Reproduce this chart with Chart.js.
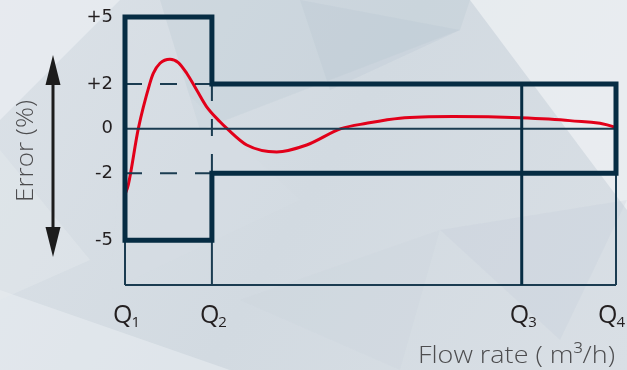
<!DOCTYPE html>
<html>
<head>
<meta charset="utf-8">
<script src="https://cdn.jsdelivr.net/npm/chart.js@4.4.1/dist/chart.umd.min.js"></script>
<style>
  html, body { margin: 0; padding: 0; }
  body { width: 627px; height: 370px; overflow: hidden; background: #d6dde4; }
  #wrap { position: relative; width: 627px; height: 370px; }
</style>
</head>
<body>
<div id="wrap"><canvas id="c" width="627" height="370"></canvas></div>
<script>
// Flow points on a 0..100 relative axis (Q1 at 0, Q4 at 100).
const qNames = ["1", "2", "3", "4"];
const qPos = [0, 17.7, 80.8, 100];
const yTicks = [5, 2, 0, -2, -5];
const yMin = -7, yMax = 5;

// Maximum permissible error envelope (%): ±5 below Q2, ±2 from Q2 to Q4.
const lowerZone = 5;
const upperZone = 2;

const curveX = [0, 0.67, 2.71, 5.09, 5.76, 7.13, 9.16, 10.86, 12.57, 14.6, 16.6, 19.35, 20.8, 24.8, 30.9, 37.0, 44.0, 49.2, 56.0, 66.8, 80.4, 90.6, 99.4, 100];
const curveY = [-2.95, -2.52, 0, 2.05, 2.48, 2.93, 3.11, 2.96, 2.48, 1.73, 0.99, 0.31, 0, -0.73, -1.04, -0.73, 0, 0.24, 0.47, 0.54, 0.49, 0.36, 0.09, 0];

const NAVY = "#062c43";
const THIN = "#1b3c51";
const RED = "#e2001a";

const [Q1, Q2, Q3, Q4] = qPos;

const envelope = [
  [Q1, 0], [Q1, lowerZone], [Q2, lowerZone], [Q2, upperZone], [Q4, upperZone],
  [Q4, -upperZone], [Q2, -upperZone], [Q2, -lowerZone], [Q1, -lowerZone], [Q1, 0],
].map(([x, y]) => ({ x, y }));

// thin guide lines, null breaks between segments
const guides = [
  { x: Q1, y: 0 }, { x: Q4, y: 0 }, { x: Q4, y: null },
  { x: Q1, y: yMin }, { x: Q4, y: yMin }, { x: Q4, y: null },
  { x: Q1, y: -lowerZone }, { x: Q1, y: yMin }, { x: Q1, y: null },
  { x: Q2, y: -lowerZone }, { x: Q2, y: yMin }, { x: Q2, y: null },
  { x: Q4, y: -upperZone }, { x: Q4, y: yMin },
];

const q3Line = [{ x: Q3, y: upperZone }, { x: Q3, y: yMin }];

const dashed = [
  { x: Q1, y: upperZone }, { x: Q2, y: upperZone }, { x: Q2, y: null },
  { x: Q1, y: -upperZone }, { x: Q2, y: -upperZone }, { x: Q2, y: null },
  { x: Q2, y: upperZone }, { x: Q2, y: -upperZone },
];

const curve = curveX.map((x, i) => ({ x, y: curveY[i] }));

// soft low-poly backdrop
const backdrop = {
  id: "backdrop",
  beforeDraw(chart) {
    const c = chart.ctx;
    const W = chart.width, H = chart.height;
    c.save();
    const g = c.createLinearGradient(0, 0, W, H);
    g.addColorStop(0, "#dbe1e7");
    g.addColorStop(0.5, "#d2dae1");
    g.addColorStop(1, "#d9dfe5");
    c.fillStyle = g;
    c.fillRect(0, 0, W, H);
    const polys = [
      ["rgba(240,243,246,0.55)", [[0, 0], [120, 0], [0, 120]]],
      ["rgba(190,202,213,0.35)", [[160, 0], [470, 0], [460, 30], [200, 130]]],
      ["rgba(175,190,203,0.2)", [[300, 0], [460, 30], [330, 90]]],
      ["rgba(245,247,249,0.6)", [[470, 0], [627, 0], [627, 210]]],
      ["rgba(236,240,243,0.5)", [[0, 290], [230, 370], [0, 370]]],
      ["rgba(230,234,238,0.4)", [[0, 150], [90, 260], [0, 300]]],
      ["rgba(190,202,213,0.22)", [[440, 230], [627, 200], [560, 340]]],
      ["rgba(200,210,219,0.22)", [[240, 300], [440, 230], [400, 370]]],
      ["rgba(215,222,229,0.3)", [[130, 40], [300, 200], [110, 290]]],
    ];
    for (const [fill, pts] of polys) {
      c.fillStyle = fill;
      c.beginPath();
      pts.forEach(([x, y], i) => (i ? c.lineTo(x, y) : c.moveTo(x, y)));
      c.closePath();
      c.fill();
    }
    c.restore();
  },
};

// draw text stretched horizontally to a target width
function fitText(c, text, x, y, width) {
  const w = c.measureText(text).width;
  c.save();
  c.translate(x, y);
  c.scale(width / w, 1);
  c.fillText(text, 0, 0);
  c.restore();
}

// Q labels, axis titles and the double arrow
const annotations = {
  id: "annotations",
  afterDraw(chart) {
    const c = chart.ctx;
    const xs = chart.scales.x;
    c.save();
    c.fillStyle = "#231f20";
    c.textBaseline = "alphabetic";
    qPos.forEach((q, i) => {
      const px = xs.getPixelForValue(q);
      c.font = "400 25px 'Open Sans'";
      const wq = c.measureText("Q").width;
      c.font = "400 15px 'Open Sans'";
      const ws = c.measureText(qNames[i]).width;
      let left = px + 2 - (wq + ws) / 2;
      left = Math.min(left, chart.width - (wq + ws) - 1);
      c.font = "400 25px 'Open Sans'";
      c.fillText("Q", left, 323);
      c.font = "400 15px 'Open Sans'";
      c.fillText(qNames[i], left + wq - 1, 327);
    });

    c.fillStyle = "#4d4d4f";
    c.font = "300 24px 'Open Sans'";
    fitText(c, "Flow rate ( m³/h)", 418, 363, 197);

    c.translate(33, 202);
    c.rotate(-Math.PI / 2);
    c.font = "300 23px 'Open Sans'";
    fitText(c, "Error (%)", 0, 0, 102);
    c.restore();

    // double-headed arrow beside the error title
    c.save();
    c.strokeStyle = "#1c1c1c";
    c.fillStyle = "#1c1c1c";
    c.lineWidth = 3;
    c.beginPath();
    c.moveTo(53, 80);
    c.lineTo(53, 232);
    c.stroke();
    c.beginPath();
    c.moveTo(53, 55); c.lineTo(60.5, 85); c.lineTo(45.5, 85); c.closePath();
    c.fill();
    c.beginPath();
    c.moveTo(53, 257); c.lineTo(60.5, 227); c.lineTo(45.5, 227); c.closePath();
    c.fill();
    c.restore();
  },
};

const line = (data, extra) => Object.assign({
  data, borderColor: NAVY, borderWidth: 2, pointRadius: 0,
  tension: 0, fill: false, clip: false, spanGaps: false,
}, extra);

new Chart(document.getElementById("c"), {
  type: "line",
  data: {
    datasets: [
      line(envelope, { borderWidth: 5, borderJoinStyle: "miter", order: 0 }),
      line(q3Line, { borderWidth: 3, order: 1 }),
      line(guides, { borderColor: THIN, order: 2 }),
      line(dashed, { borderColor: THIN, borderDash: [17, 18], order: 3 }),
      line(curve, { borderColor: RED, borderWidth: 3, cubicInterpolationMode: "monotone", order: 9 }),
    ],
  },
  options: {
    responsive: false,
    animation: false,
    events: [],
    layout: { padding: { left: 0, right: 11, top: 17, bottom: 85 } },
    plugins: { legend: { display: false }, tooltip: { enabled: false } },
    scales: {
      x: { type: "linear", min: Q1, max: Q4, display: false },
      y: {
        type: "linear",
        min: yMin,
        max: yMax,
        afterBuildTicks: (s) => { s.ticks = yTicks.map((v) => ({ value: v })); },
        afterFit: (s) => { s.width = 125; s.paddingTop = 0; s.paddingBottom = 0; },
        grid: { display: false },
        border: { display: false },
        ticks: {
          padding: 4,
          color: "#231f20",
          font: { family: "'DejaVu Sans'", size: 18 },
          callback: (v) => (v > 0 ? "+" + v : String(v)),
        },
      },
    },
  },
  plugins: [backdrop, annotations],
});
</script>
</body>
</html>
